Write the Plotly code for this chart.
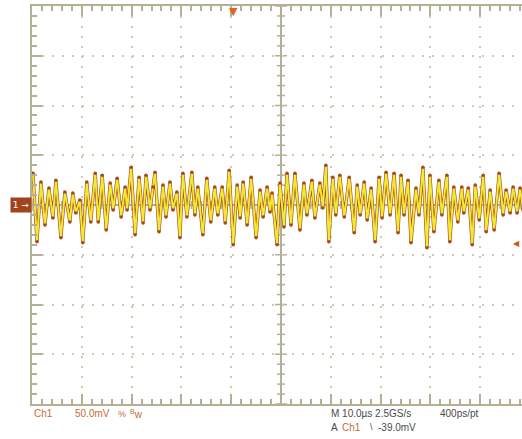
import numpy as np
import plotly.graph_objects as go

# Channel 1 waveform (time in µs relative to centre, voltage in mV)
time_us = [
    -49.8, -49.0, -48.2, -47.4, -46.6, -45.8, -45.2, -44.2, -43.4, -42.4, -41.8, -41.2,
    -40.4, -39.8, -39.0, -38.2, -37.3, -36.7, -35.9, -35.1, -34.3, -33.7, -32.9, -32.1,
    -31.3, -30.9, -30.1, -29.3, -28.5, -27.7, -27.1, -26.3, -25.7,
    -25.3, -24.5, -23.7, -23.1, -22.3, -21.7, -20.9, -20.3, -19.7, -18.9, -17.9, -17.3,
    -16.7, -15.7, -14.9, -14.1, -13.3, -12.7, -11.8, -11.2, -10.4, -9.6, -8.8, -8.2,
    -7.6, -6.8, -6.0, -5.0, -4.2, -3.6, -2.8, -2.2, -1.8,
    -0.8, -0.2, 0.6, 1.2, 2.0, 2.8, 3.8, 4.6, 5.2, 6.2, 6.8, 7.8, 8.4, 9.0, 9.6, 10.4,
    11.0, 11.8, 12.7, 13.7, 14.7, 15.3, 15.9, 16.7, 17.3, 18.1, 18.9, 19.7, 20.3, 21.1,
    21.9, 22.7,
    23.5, 24.1, 24.7, 25.5, 26.1, 27.1, 27.7, 28.5, 29.3, 29.9, 30.7, 31.7, 32.3, 33.3,
    33.9, 34.7, 35.5, 36.3, 36.7, 37.6, 38.4, 39.0, 39.8, 40.6, 41.2, 42.0, 42.8, 43.8,
    44.6, 45.2, 46.0, 46.6, 47.4, 48.0, 48.6,
]
ch1_mv = [
    32, -37, 23, -20, 17, -13, 25, -33, 13, -17, 12, -8,
    5, -38, 23, -17, 32, -17, 30, -25, 22, -5, 27, -12,
    18, -5, 38, -30, 28, -18, 30, -5, 18,
    33, -27, 20, -12, 23, -5, 13, -33, 32, -12, 33, -10,
    18, -30, 27, -17, 18, -10, 18, -18, 35, -40, 20, -13,
    23, -20, 28, -33, 15, -12, 18, -7, 12,
    -40, 22, -22, 32, -20, 32, -25, 22, -10, 25, -13, 22, -3, 40, -37, 28,
    -10, 30, -12, 28, -28, 20, -10, 23, -15, 17, -37, 28, -13, 33,
    -10, 32,
    -28, 30, -10, 25, -38, 17, -10, 38, -43, 30, -27, 25, -10, 30,
    -37, 18, -17, 18, -8, 17, -40, 20, -15, 30, -27, 15, -25, 32,
    -10, 15, -8, 18, -8, 17, -5,
]

# Screen settings
X_RANGE = [-50, 48.39]        # µs (10 µs/div, right edge cut by the window)
Y_RANGE = [-200, 200]         # mV (50 mV/div)
TRIG_POS_US = -9.6
TRIG_LEVEL_MV = -39.0

GRAT = "#b4b096"
GRID = "#cfcab2"
ORANGE = "#c36e32"
DARK = "#4a4a4a"

fig = go.Figure()
fig.add_trace(go.Scatter(
    x=time_us, y=ch1_mv, mode="lines",
    line=dict(color="#a8461c", width=3.2),
    hoverinfo="skip", showlegend=False))
fig.add_trace(go.Scatter(
    x=time_us, y=ch1_mv, mode="lines+markers",
    line=dict(color="#f2ea30", width=2.0),
    marker=dict(color="#a8461c", size=3.5, line=dict(width=0)),
    showlegend=False))

# centre-cross tick marks
shapes = []
for v in np.arange(-200, 201, 10):
    half = 1.2 if v % 50 == 0 else 0.8
    shapes.append(dict(type="line", xref="x", yref="y", x0=-half, x1=half, y0=v, y1=v,
                       line=dict(color=GRAT, width=1.5), layer="below"))
for t in np.arange(-50, 49, 2):
    half = 6 if t % 10 == 0 else 4
    shapes.append(dict(type="line", xref="x", yref="y", x0=t, x1=t, y0=-half, y1=half,
                       line=dict(color=GRAT, width=1.5), layer="below"))

annotations = []
def txt(x, y, s, color, size=10, xanchor="left", xref="paper", yref="paper", **kw):
    annotations.append(dict(x=x, y=y, xref=xref, yref=yref, text=s, showarrow=False,
                            xanchor=xanchor, yanchor="middle",
                            font=dict(family="Liberation Sans, Arial", size=size, color=color),
                            **kw))

txt(0.0, -0.024, "Ch1", ORANGE)
txt(0.0837, -0.024, "50.0mV", ORANGE)
txt(0.1714, -0.024, "%", ORANGE, size=9)
txt(0.1959, -0.024, "<sup>B</sup>w", ORANGE)
txt(0.6061, -0.024, "M 10.0µs 2.5GS/s", DARK)
txt(0.8286, -0.024, "400ps/pt", DARK)
txt(0.6061, -0.058, "A", DARK)
txt(0.6286, -0.058, "Ch1", ORANGE)
txt(0.6857, -0.058, "\\", DARK, size=9)
txt(0.7020, -0.058, "-39.0mV", DARK)

# channel ground marker
annotations.append(dict(x=0, y=0, xref="paper", yref="y", text="1 →", showarrow=False,
                        xanchor="right", yanchor="middle", bgcolor="#a0441c",
                        borderpad=1, width=18, height=12,
                        font=dict(family="DejaVu Sans", size=9, color="white")))
# trigger position marker
annotations.append(dict(x=TRIG_POS_US, y=1, xref="x", yref="paper", text="▼", showarrow=False,
                        xanchor="center", yanchor="top", yshift=3,
                        font=dict(family="DejaVu Sans", size=11, color="#e8641e")))
# trigger level marker
annotations.append(dict(x=1, y=TRIG_LEVEL_MV, xref="paper", yref="y", text="◀", showarrow=False,
                        xanchor="right", yanchor="middle",
                        font=dict(family="DejaVu Sans", size=8, color="#d0561e")))

axis_common = dict(showticklabels=False, showline=True, linecolor=GRAT, linewidth=2,
                   ticks="inside", ticklen=10, tickwidth=2, tickcolor=GRAT,
                   showgrid=True, gridcolor=GRID, gridwidth=2, griddash="2px,8px",
                   zeroline=True, zerolinecolor=GRAT, zerolinewidth=2, fixedrange=True)

fig.update_layout(
    width=522, height=439,
    margin=dict(l=32, r=0, t=6, b=35),
    paper_bgcolor="white", plot_bgcolor="white",
    showlegend=False,
    shapes=shapes, annotations=annotations,
    xaxis=dict(range=X_RANGE, tick0=0, dtick=10, mirror="ticks",
               minor=dict(dtick=2, tick0=0, ticks="inside", ticklen=5, tickwidth=1.5,
                          tickcolor=GRAT, showgrid=False),
               **axis_common),
    yaxis=dict(range=Y_RANGE, tick0=0, dtick=50,
               minor=dict(dtick=10, tick0=0, ticks="inside", ticklen=5, tickwidth=1.5,
                          tickcolor=GRAT, showgrid=False),
               **axis_common),
)

fig.write_html("out.html", config={"displayModeBar": False},
               post_script="document.body.style.margin='0';document.body.style.overflow='hidden';")
